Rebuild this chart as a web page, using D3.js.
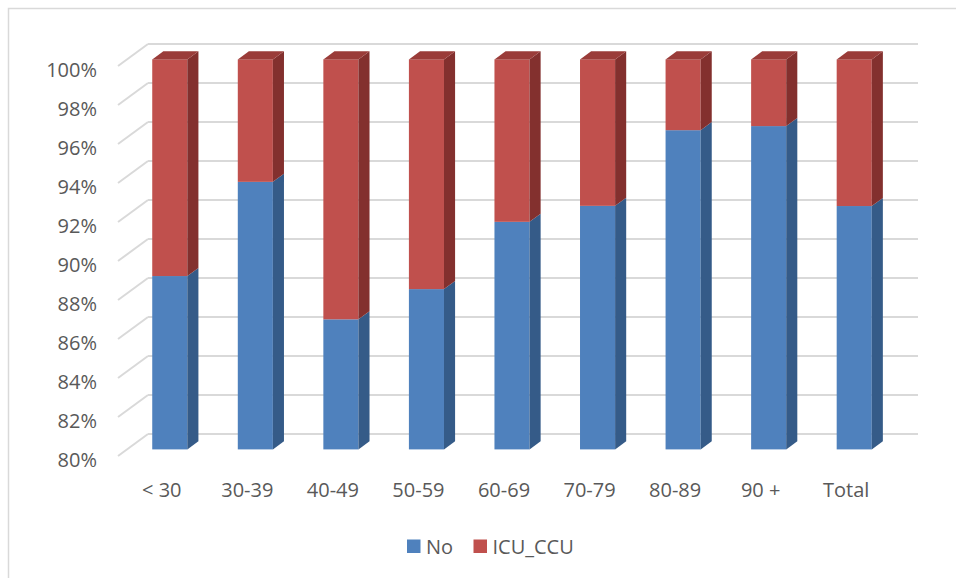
<!DOCTYPE html>
<html>
<head>
<meta charset="utf-8">
<script src="https://cdn.jsdelivr.net/npm/d3@7"></script>
<style>
  html, body { margin: 0; padding: 0; background: #fff; }
  svg { display: block; font-family: "Open Sans", "Liberation Sans", sans-serif; }
</style>
</head>
<body>
<svg id="chart" width="956" height="578"></svg>
<script>
// Share of patients by age group: not admitted vs. ICU/CCU admission (100% stacked)
const categories = ["< 30", "30-39", "40-49", "50-59", "60-69", "70-79", "80-89", "90 +", "Total"];
const noValues   = [88.89, 93.72, 86.67, 88.22, 91.67, 92.49, 96.37, 96.58, 92.48];
const icuValues  = [11.11, 6.28, 13.33, 11.78, 8.33, 7.51, 3.63, 3.42, 7.52];
const seriesNames = ["No", "ICU_CCU"];
const yTicks = [80, 82, 84, 86, 88, 90, 92, 94, 96, 98, 100];

const palette = {
  No:      { front: "#4f81bd", side: "#355b88", top: "#3f6da3" },
  ICU_CCU: { front: "#c0504d", side: "#83302e", top: "#9a3c39" }
};

const svg = d3.select("#chart");
const textColor = "#595959";
const gridColor = "#d9d9d9";

// Outer chart frame
svg.append("rect")
  .attr("x", 8.5).attr("y", 8.5)
  .attr("width", 980).attr("height", 600)
  .attr("fill", "none").attr("stroke", gridColor).attr("stroke-width", 1.5);

// Front plane scales; the back wall is shifted by the depth vector
const wallDX = 30, wallDY = -22;
const x = d3.scaleBand().domain(categories).range([118, 888])
  .paddingInner(0.59).paddingOuter(0.295);
const y = d3.scaleLinear().domain([80, 100]).range([456, 66]);

// Bars sit partway into the depth
const barF0 = 0.3, barF1 = 0.67;
const bx0 = wallDX * barF0, by0 = wallDY * barF0;
const bdx = wallDX * (barF1 - barF0), bdy = wallDY * (barF1 - barF0);

// Gridlines: diagonal on the side wall and horizontal on the back wall
const grid = svg.append("g");
yTicks.forEach(t => {
  const yf = y(t);
  grid.append("line")
    .attr("x1", 118).attr("y1", yf)
    .attr("x2", 118 + wallDX).attr("y2", yf + wallDY)
    .attr("stroke", gridColor).attr("stroke-width", 2);
  grid.append("line")
    .attr("x1", 118 + wallDX).attr("y1", yf + wallDY)
    .attr("x2", 888 + wallDX).attr("y2", yf + wallDY)
    .attr("stroke", gridColor).attr("stroke-width", 2);
});

// Y axis labels
svg.append("g").selectAll("text").data(yTicks).join("text")
  .attr("x", 97).attr("y", d => y(d) + 3)
  .attr("text-anchor", "end").attr("dominant-baseline", "central")
  .attr("fill", textColor).attr("font-size", 20)
  .text(d => d + "%");

// Stacked data
const rows = categories.map((c, i) => ({ cat: c, No: noValues[i], ICU_CCU: icuValues[i] }));
const stacked = d3.stack().keys(seriesNames)(rows);

const bw = x.bandwidth();
const bars = svg.append("g");
categories.forEach((c, i) => {
  const fx = x(c) + bx0;
  stacked.forEach((layer, li) => {
    const key = layer.key;
    // the axis starts at 80%, so the lowest segment is clipped there
    const v0 = Math.max(80, layer[i][0]);
    const v1 = layer[i][1];
    const yTop = y(v1) + by0, yBot = y(v0) + by0;
    const col = palette[key];
    // front face
    bars.append("rect")
      .attr("x", fx).attr("y", yTop)
      .attr("width", bw).attr("height", yBot - yTop)
      .attr("fill", col.front);
    // right side face
    bars.append("path")
      .attr("d", `M${fx + bw},${yTop} L${fx + bw + bdx},${yTop + bdy} L${fx + bw + bdx},${yBot + bdy} L${fx + bw},${yBot} Z`)
      .attr("fill", col.side);
    // top face on the uppermost segment
    if (li === stacked.length - 1) {
      bars.append("path")
        .attr("d", `M${fx},${yTop} L${fx + bdx},${yTop + bdy} L${fx + bw + bdx},${yTop + bdy} L${fx + bw},${yTop} Z`)
        .attr("fill", col.top);
    }
  });
});

// Category labels
svg.append("g").selectAll("text").data(categories).join("text")
  .attr("x", d => x(d) + bw / 2 + 1).attr("y", 489)
  .attr("text-anchor", "middle").attr("dominant-baseline", "central")
  .attr("fill", textColor).attr("font-size", 20)
  .text(d => d);

// Legend
const legendItems = [
  { name: "No", x: 407 },
  { name: "ICU_CCU", x: 473.5 }
];
const legend = svg.append("g");
legendItems.forEach(it => {
  legend.append("rect")
    .attr("x", it.x).attr("y", 539.5).attr("width", 13.5).attr("height", 13.5)
    .attr("fill", palette[it.name].front);
  legend.append("text")
    .attr("x", it.x + 19).attr("y", 546.5)
    .attr("dominant-baseline", "central")
    .attr("fill", textColor).attr("font-size", 20)
    .text(it.name);
});
</script>
</body>
</html>
